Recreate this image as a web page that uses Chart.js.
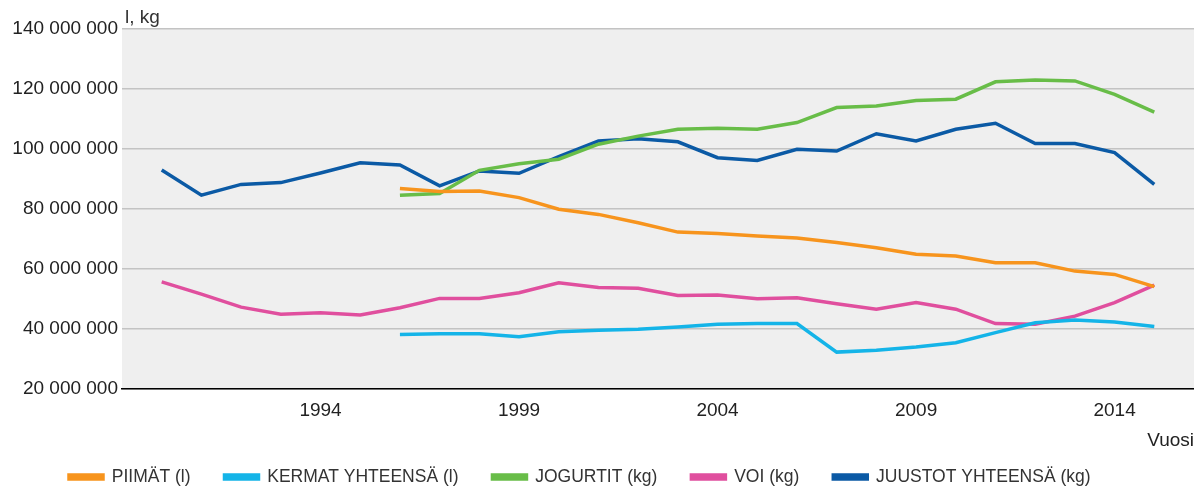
<!DOCTYPE html>
<html>
<head>
<meta charset="utf-8">
<script src="https://cdn.jsdelivr.net/npm/chart.js@4/dist/chart.umd.min.js"></script>
<style>
  html, body { margin: 0; padding: 0; background: #fff; }
  #wrap { width: 1194px; height: 489px; }
</style>
</head>
<body>
<div id="wrap"><canvas id="chart" width="1194" height="489"></canvas></div>
<script>
// vuodet 1990-2015
var years = [];
for (var y = 1990; y <= 2015; y++) years.push(y);

// arvot miljoonina (luettu kuvasta), null = ei tietoa
var piimat = [null, null, null, null, null, null,
  86.8, 85.8, 86.0, 83.8, 79.9, 78.2, 75.4, 72.3, 71.8, 71.0, 70.3, 68.8, 67.1, 64.9,
  64.3, 62.1, 62.1, 59.3, 58.2, 54.1];
var kermat = [null, null, null, null, null, null,
  38.2, 38.4, 38.4, 37.4, 39.1, 39.6, 39.9, 40.7, 41.6, 41.8, 41.8, 32.3, 32.9, 34.0,
  35.4, 38.8, 42.1, 43.0, 42.3, 40.8];
var jogurtit = [null, null, null, null, null, null,
  84.6, 85.2, 92.9, 95.1, 96.6, 101.6, 104.3, 106.6, 106.9, 106.6, 108.8, 113.8, 114.3, 116.2,
  116.6, 122.4, 123.0, 122.7, 118.2, 112.3];
var voi = [55.7, 51.6, 47.3, 44.9, 45.4, 44.7,
  47.1, 50.2, 50.2, 52.1, 55.4, 53.8, 53.6, 51.2, 51.3, 50.1, 50.4, 48.4, 46.6, 48.8,
  46.6, 41.8, 41.6, 44.3, 48.8, 54.6];
var juustot = [93.0, 84.6, 88.2, 88.8, 92.0, 95.4,
  94.7, 87.7, 92.7, 91.9, 97.5, 102.7, 103.4, 102.4, 97.1, 96.2, 99.9, 99.3, 105.1, 102.7,
  106.6, 108.6, 101.8, 101.8, 98.8, 88.2];

var xTicks = [1994, 1999, 2004, 2009, 2014];

function points(arr) {
  var out = [];
  for (var i = 0; i < years.length; i++) {
    if (arr[i] !== null) out.push({ x: years[i], y: arr[i] * 1000000 });
  }
  return out;
}

function line(label, arr, color) {
  return {
    label: label,
    data: points(arr),
    borderColor: color,
    backgroundColor: color,
    borderWidth: 3.5,
    pointRadius: 0,
    tension: 0
  };
}

// harmaa tausta, "l, kg" otsikko ja legendan paikka
var plotBg = {
  id: 'plotBg',
  afterInit: function (chart) {
    var lg = chart.legend;
    var fit = lg.fit;
    lg.fit = function () {
      fit.call(this);
      this.height = 54.75;
    };
  },
  afterLayout: function (chart) {
    chart.legend.left = 35;
  },
  beforeDraw: function (chart) {
    var a = chart.chartArea, c = chart.ctx;
    c.save();
    c.fillStyle = '#efefef';
    c.fillRect(a.left, a.top, a.right - a.left, a.bottom - a.top);
    c.restore();
  },
  afterDraw: function (chart) {
    var a = chart.chartArea, c = chart.ctx;
    c.save();
    c.fillStyle = '#333';
    c.font = '19px "Liberation Sans", Arial, sans-serif';
    c.textBaseline = 'alphabetic';
    c.fillText('l, kg', a.left + 3, a.top - 6);
    c.restore();
  }
};

Chart.defaults.font.family = '"Liberation Sans", Arial, sans-serif';
Chart.defaults.color = '#333';

var ctx = document.getElementById('chart').getContext('2d');
var myChart = new Chart(ctx, {
  type: 'line',
  data: {
    datasets: [
      line('PIIMÄT (l)', piimat, '#f7941d'),
      line('KERMAT YHTEENSÄ (l)', kermat, '#14b4e8'),
      line('JOGURTIT (kg)', jogurtit, '#68bd48'),
      line('VOI (kg)', voi, '#e04f9e'),
      line('JUUSTOT YHTEENSÄ (kg)', juustot, '#0b5aa5')
    ]
  },
  options: {
    responsive: false,
    animation: false,
    layout: { padding: { top: 29, right: 0, bottom: 0, left: 0 } },
    plugins: {
      tooltip: { enabled: false },
      legend: {
        position: 'bottom',
        align: 'start',
        labels: {
          boxWidth: 34,
          boxHeight: 4,
          padding: 34,
          font: { size: 17.5 },
          color: '#333'
        }
      }
    },
    scales: {
      x: {
        type: 'linear',
        min: 1989,
        max: 2016,
        afterBuildTicks: function (scale) {
          scale.ticks = xTicks.map(function (v) { return { value: v }; });
        },
        grid: { display: false, drawTicks: false, tickLength: 0 },
        border: { display: true, color: '#000', width: 1.5 },
        ticks: {
          font: { size: 19 },
          color: '#222',
          padding: 10,
          maxRotation: 0,
          callback: function (v) { return String(v); }
        },
        title: {
          display: true,
          text: 'Vuosi',
          align: 'end',
          font: { size: 19 },
          color: '#222',
          padding: { top: -2.2, bottom: -18.15 }
        }
      },
      y: {
        min: 20000000,
        max: 140000000,
        afterFit: function (scale) { scale.width = 122; },
        grid: { color: '#c3c3c3', lineWidth: 1.5, drawTicks: false },
        border: { display: false },
        ticks: {
          stepSize: 20000000,
          font: { size: 19 },
          color: '#222',
          padding: 4,
          callback: function (value) {
            return String(value).replace(/\B(?=(\d{3})+(?!\d))/g, ' ');
          }
        }
      }
    }
  },
  plugins: [plotBg]
});
</script>
</body>
</html>
